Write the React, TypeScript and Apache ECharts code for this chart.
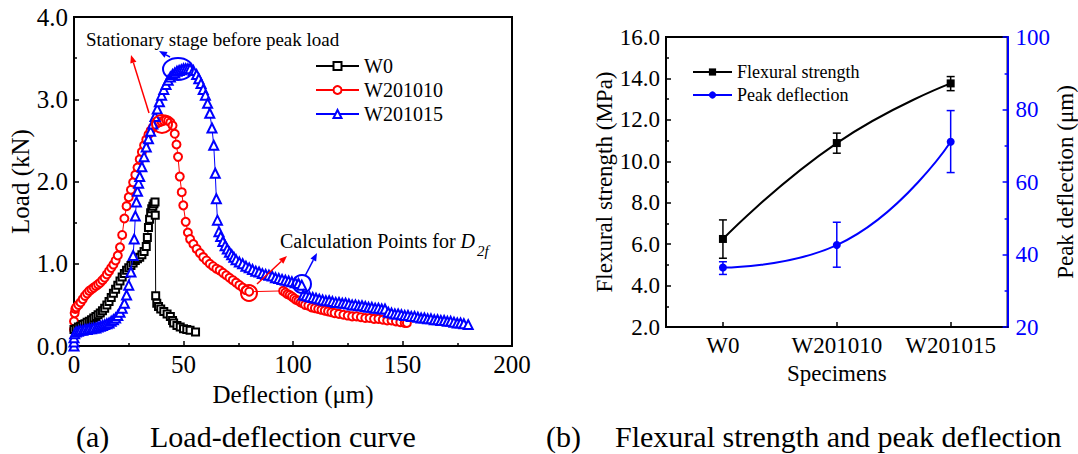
import React, { useEffect, useRef } from "react";
import * as echarts from "echarts";

// ---------- Data (a) Load-deflection curve: [deflection (µm), load (kN)] ----------
const w0Data: number[][] = [
  [0, 0.2], [1, 0.21], [2, 0.23], [3, 0.24], [4, 0.26], [5, 0.27], [6, 0.29], [7, 0.3], [8, 0.32], [9, 0.34],
  [10, 0.36], [11, 0.38], [12, 0.4], [13, 0.43], [14, 0.46], [15, 0.5], [16, 0.54], [17, 0.59], [18, 0.64], [19, 0.69],
  [20, 0.74], [21, 0.79], [22, 0.84], [23, 0.88], [24, 0.92], [25, 0.95], [26, 0.98], [27, 1.01], [28, 1.04], [29, 1.06],
  [30, 1.08], [31, 1.11], [32, 1.15], [33, 1.21], [33.5, 1.32], [34, 1.44], [34.5, 1.54], [35, 1.62], [35.5, 1.67],
  [36, 1.7], [36.5, 1.73], [37, 1.75], [37.1, 1.59], [37.3, 0.61], [37.8, 0.52], [38.6, 0.48], [39.6, 0.45],
  [41, 0.42], [42.5, 0.39], [44, 0.36], [45, 0.31], [45.5, 0.28], [47, 0.25], [48.5, 0.23], [50, 0.21],
  [51.5, 0.2], [53, 0.19], [55.5, 0.17],
];

const w201010Data: number[][] = [
  [0, 0.2], [0, 0.3], [0.3, 0.4], [0.6, 0.45], [1, 0.47], [2, 0.5], [3, 0.53], [4, 0.57], [5, 0.61], [6, 0.64],
  [7, 0.67], [8, 0.69], [9, 0.71], [10, 0.73], [11, 0.75], [12, 0.77], [13, 0.8], [14, 0.83], [15, 0.87], [16, 0.91],
  [17, 0.95], [18, 0.99], [19, 1.04], [20, 1.1], [21, 1.2], [22, 1.35], [23, 1.55], [24, 1.7], [25, 1.81], [26, 1.9],
  [27, 1.99], [28, 2.08], [29, 2.17], [30, 2.27], [31, 2.36], [32, 2.44], [33, 2.51], [34, 2.57], [35, 2.62],
  [36, 2.66], [37, 2.69], [38, 2.71], [39, 2.72], [40, 2.73], [41, 2.74], [42, 2.75], [43, 2.74], [44, 2.72],
  [45, 2.68], [46, 2.58], [46.8, 2.45], [47.5, 2.3], [48.3, 2.06], [49.2, 1.87], [49.9, 1.71], [51, 1.51],
  [52, 1.38], [53, 1.3], [54.5, 1.24], [56, 1.18], [57.5, 1.13], [59, 1.08], [60.5, 1.04], [62, 1.0], [63.5, 0.97],
  [65, 0.94], [66.5, 0.92], [68, 0.89], [69.5, 0.86], [71, 0.83], [72.5, 0.8], [74, 0.77], [75.5, 0.74], [77, 0.71],
  [78.5, 0.68], [80, 0.66], [95.5, 0.67], [96.5, 0.65], [97.5, 0.63], [98.5, 0.62], [99.5, 0.6], [100.5, 0.58],
  [101.5, 0.56], [102.5, 0.55], [103.5, 0.53], [104.5, 0.52], [105.5, 0.5], [107, 0.49], [108.5, 0.47], [110, 0.46],
  [111.5, 0.45], [113, 0.44], [114.5, 0.43], [116, 0.42], [117.5, 0.41], [119, 0.4], [121, 0.39], [123, 0.38],
  [125, 0.37], [127, 0.36], [129, 0.36], [131, 0.35], [133, 0.34], [135, 0.34], [137, 0.33], [139, 0.33],
  [141, 0.32], [143, 0.31], [145, 0.31], [147, 0.3], [149, 0.29], [151, 0.28], [152, 0.28],
];

const w201015Data: number[][] = [
  [0, 0.0], [0, 0.05], [0, 0.1], [0.3, 0.15], [1, 0.17], [2, 0.18], [3, 0.19], [4, 0.19], [5, 0.2], [6, 0.2],
  [7, 0.21], [8, 0.21], [9, 0.22], [10, 0.22], [11, 0.23], [12, 0.24], [13, 0.25], [14, 0.26], [15, 0.27],
  [16, 0.28], [17, 0.3], [18, 0.32], [19, 0.34], [20, 0.37], [21, 0.41], [22, 0.46], [23, 0.52], [24, 0.62],
  [25, 0.74], [26, 0.9], [27, 1.1], [27.5, 1.3], [28, 1.58], [28.5, 1.75], [29, 1.88], [29.5, 1.98], [30, 2.06],
  [31, 2.18], [32, 2.3], [33, 2.42], [34, 2.52], [35, 2.61], [36, 2.7], [37, 2.79], [38, 2.88], [39, 2.97],
  [40, 3.05], [41, 3.12], [42, 3.18], [43, 3.23], [44, 3.27], [45, 3.3], [46, 3.32], [47, 3.34], [48, 3.35],
  [49, 3.36], [50, 3.37], [51, 3.37], [52, 3.37], [53, 3.37], [54.5, 3.35], [56, 3.3], [57, 3.25], [58, 3.19],
  [59, 3.12], [60, 3.05], [61, 2.95], [62, 2.83], [63, 2.65], [63.8, 2.44], [64.5, 2.1], [65, 1.79], [65.5, 1.53],
  [66.2, 1.39], [67, 1.33], [68, 1.27], [69, 1.22], [70, 1.18], [71, 1.14], [72, 1.11], [73, 1.08], [74, 1.05],
  [75.5, 1.02], [77, 1.0], [78.5, 0.97], [80, 0.95], [81.5, 0.93], [83, 0.91], [84.5, 0.9], [86, 0.88],
  [87.5, 0.87], [89, 0.86], [90.5, 0.85], [92, 0.83], [93.5, 0.82], [95, 0.81], [96.5, 0.8], [98, 0.79],
  [99.5, 0.78], [101, 0.77], [102.5, 0.76], [104, 0.74], [104.7, 0.62], [106, 0.61], [107.5, 0.6], [109, 0.59],
  [110.5, 0.58], [112, 0.57], [113.5, 0.56], [115, 0.55], [116.5, 0.55], [118, 0.54], [119.5, 0.53], [121, 0.53],
  [122.5, 0.52], [124, 0.52], [125.5, 0.51], [127, 0.5], [128.5, 0.5], [130, 0.49], [131.5, 0.49], [133, 0.48],
  [134.5, 0.47], [136, 0.47], [137.5, 0.46], [139, 0.46], [140.5, 0.45], [142, 0.45], [143.5, 0.41], [145, 0.4],
  [146.5, 0.39], [148, 0.39], [149.5, 0.38], [151, 0.37], [152.5, 0.37], [154, 0.36], [155.5, 0.36], [157, 0.35],
  [158.5, 0.34], [160, 0.34], [161.5, 0.33], [163, 0.33], [164.5, 0.32], [166, 0.32], [167.5, 0.31], [169, 0.31],
  [170.5, 0.3], [172, 0.3], [173.5, 0.29], [175, 0.28], [176.5, 0.28], [178, 0.27], [180, 0.26],
];

// ---------- Data (b) Flexural strength and peak deflection ----------
const specimens = ["W0", "W201010", "W201015"];
const flexuralStrength = [6.25, 10.88, 13.76];
const flexuralLow = [5.32, 10.39, 13.41];
const flexuralHigh = [7.17, 11.36, 14.09];
const peakDeflection = [36.4, 42.6, 71.1];
const peakLow = [34.5, 36.5, 62.6];
const peakHigh = [38.0, 48.9, 79.7];

const FONT = "Liberation Serif";

function arrow(x1: number, y1: number, x2: number, y2: number, color: string) {
  const ang = Math.atan2(y2 - y1, x2 - x1);
  const len = 8;
  const half = 3.2;
  const bx = x2 - len * Math.cos(ang);
  const by = y2 - len * Math.sin(ang);
  const px = -Math.sin(ang) * half;
  const py = Math.cos(ang) * half;
  return [
    { type: "line", shape: { x1, y1, x2: bx, y2: by }, style: { stroke: color, lineWidth: 1.5 }, z: 100 },
    {
      type: "polygon",
      shape: { points: [[x2, y2], [bx + px, by + py], [bx - px, by - py]] },
      style: { fill: color },
      z: 100,
    },
  ];
}

export default function App() {
  const ref = useRef<HTMLDivElement>(null);
  useEffect(() => {
    document.body.style.margin = "0";
    const chart = echarts.init(ref.current!, null, { renderer: "svg" });

    const errorSeries = (low: number[], high: number[], color: string, yAxisIndex: number) => ({
      type: "custom",
      xAxisIndex: 1,
      yAxisIndex,
      silent: true,
      z: 3,
      data: low.map((l, i) => [i, l, high[i]]),
      encode: { x: 0, y: [1, 2] },
      renderItem: (params: any, api: any) => {
        const i = api.value(0);
        const top = api.coord([i, api.value(2)]);
        const bot = api.coord([i, api.value(1)]);
        const w = 4;
        const st = { stroke: color, lineWidth: 1.5 };
        return {
          type: "group",
          children: [
            { type: "line", shape: { x1: top[0], y1: top[1], x2: bot[0], y2: bot[1] }, style: st },
            { type: "line", shape: { x1: top[0] - w, y1: top[1], x2: top[0] + w, y2: top[1] }, style: st },
            { type: "line", shape: { x1: bot[0] - w, y1: bot[1], x2: bot[0] + w, y2: bot[1] }, style: st },
          ],
        };
      },
    });

    const axisCommon = {
      axisLine: { show: true, lineStyle: { color: "#000", width: 2 } },
      axisTick: { show: true, inside: true, length: 5, lineStyle: { color: "#000", width: 1.5 } },
      minorTick: { show: true, splitNumber: 2, length: 3, lineStyle: { color: "#000", width: 1.5 } },
      splitLine: { show: false },
    };

    const option: any = {
      animation: false,
      textStyle: { fontFamily: FONT, color: "#000" },
      grid: [
        { left: 74, top: 17, width: 438, height: 329, show: true, borderColor: "#000", borderWidth: 2, backgroundColor: "transparent" },
        { left: 666, top: 37, width: 354, height: 290, show: true, borderColor: "#000", borderWidth: 2, backgroundColor: "transparent" },
      ],
      xAxis: [
        {
          ...axisCommon,
          type: "value",
          gridIndex: 0,
          min: 0,
          max: 200,
          interval: 50,
          name: "Deflection (μm)",
          nameLocation: "middle",
          nameGap: 32,
          nameTextStyle: { fontSize: 25, fontFamily: FONT, color: "#000" },
          axisLabel: { fontSize: 25, fontFamily: FONT, color: "#000", margin: 6 },
        },
        {
          ...axisCommon,
          minorTick: { show: false },
          type: "category",
          gridIndex: 1,
          data: specimens,
          axisTick: { show: true, inside: true, alignWithLabel: true, length: 5, lineStyle: { color: "#000", width: 1.5 } },
          name: "Specimens",
          nameLocation: "middle",
          nameGap: 31,
          nameTextStyle: { fontSize: 23, fontFamily: FONT, color: "#000" },
          axisLabel: { interval: 0, fontSize: 23, fontFamily: FONT, color: "#000", margin: 7 },
        },
      ],
      yAxis: [
        {
          ...axisCommon,
          type: "value",
          gridIndex: 0,
          min: 0,
          max: 4,
          interval: 1,
          name: "Load (kN)",
          nameLocation: "middle",
          nameGap: 39,
          nameTextStyle: { fontSize: 25, fontFamily: FONT, color: "#000" },
          axisLabel: { fontSize: 25, fontFamily: FONT, color: "#000", margin: 6, formatter: (v: number) => v.toFixed(1) },
        },
        {
          ...axisCommon,
          type: "value",
          gridIndex: 1,
          min: 2,
          max: 16,
          interval: 2,
          name: "Flexural strength (MPa)",
          nameLocation: "middle",
          nameGap: 42,
          nameTextStyle: { fontSize: 23, fontFamily: FONT, color: "#000" },
          axisLabel: { fontSize: 23, fontFamily: FONT, color: "#000", margin: 6, formatter: (v: number) => v.toFixed(1) },
        },
        {
          type: "value",
          gridIndex: 1,
          position: "right",
          min: 20,
          max: 100,
          interval: 20,
          splitLine: { show: false },
          axisLine: { show: true, lineStyle: { color: "#0000ff", width: 2 } },
          axisTick: { show: true, inside: true, length: 5, lineStyle: { color: "#0000ff", width: 1.5 } },
          minorTick: { show: true, splitNumber: 2, length: 3, lineStyle: { color: "#0000ff", width: 1.5 } },
          name: "Peak deflection (μm)",
          nameLocation: "middle",
          nameGap: 31,
          nameTextStyle: { fontSize: 23, fontFamily: FONT, color: "#000" },
          axisLabel: { fontSize: 23, fontFamily: FONT, color: "#0000ff", margin: 8 },
        },
      ],
      legend: [
        {
          data: ["W0", "W201010", "W201015"],
          orient: "vertical",
          left: 310,
          top: 51,
          itemWidth: 43,
          itemHeight: 10,
          itemGap: 4,
          textStyle: { fontSize: 20, fontFamily: FONT, color: "#000" },
        },
        {
          data: ["Flexural strength", "Peak deflection"],
          orient: "vertical",
          left: 687,
          top: 58,
          itemWidth: 39,
          itemHeight: 9,
          itemGap: 5,
          textStyle: { fontSize: 18, fontFamily: FONT, color: "#000" },
        },
      ],
      series: [
        {
          name: "W0",
          type: "line",
          xAxisIndex: 0,
          yAxisIndex: 0,
          data: w0Data,
          showAllSymbol: true,
          symbol: "emptyRect",
          symbolSize: 7,
          lineStyle: { color: "#000", width: 1 },
          itemStyle: { color: "#000", borderWidth: 1 },
          z: 4,
        },
        {
          name: "W201010",
          type: "line",
          xAxisIndex: 0,
          yAxisIndex: 0,
          data: w201010Data,
          showAllSymbol: true,
          symbol: "emptyCircle",
          symbolSize: 8,
          lineStyle: { color: "#ff0000", width: 1 },
          itemStyle: { color: "#ff0000", borderWidth: 1 },
          z: 3,
        },
        {
          name: "W201015",
          type: "line",
          xAxisIndex: 0,
          yAxisIndex: 0,
          data: w201015Data,
          showAllSymbol: true,
          symbol: "emptyTriangle",
          symbolSize: 9,
          lineStyle: { color: "#0000ff", width: 1 },
          itemStyle: { color: "#0000ff", borderWidth: 1 },
          z: 5,
        },
        errorSeries(flexuralLow, flexuralHigh, "#000", 1),
        errorSeries(peakLow, peakHigh, "#0000ff", 2),
        {
          name: "Flexural strength",
          type: "line",
          xAxisIndex: 1,
          yAxisIndex: 1,
          data: flexuralStrength,
          smooth: 0.5,
          symbol: "rect",
          symbolSize: 8,
          lineStyle: { color: "#000", width: 2 },
          itemStyle: { color: "#000" },
          z: 4,
        },
        {
          name: "Peak deflection",
          type: "line",
          xAxisIndex: 1,
          yAxisIndex: 2,
          data: peakDeflection,
          smooth: 0.5,
          symbol: "circle",
          symbolSize: 8,
          lineStyle: { color: "#0000ff", width: 2 },
          itemStyle: { color: "#0000ff" },
          z: 4,
        },
      ],
      graphic: [
        {
          type: "text",
          left: 86,
          top: 30,
          style: { text: "Stationary stage before peak load", font: `19px "${FONT}"`, fill: "#000" },
          z: 100,
        },
        { type: "ellipse", shape: { cx: 178, cy: 69, rx: 15, ry: 11 }, style: { fill: "none", stroke: "#0000ff", lineWidth: 2 }, z: 100 },
        { type: "ellipse", shape: { cx: 162, cy: 124, rx: 10, ry: 9 }, style: { fill: "none", stroke: "#ff0000", lineWidth: 2 }, z: 100 },
        ...arrow(170, 57, 159, 51, "#0000ff"),
        ...arrow(149, 113, 131, 55, "#ff0000"),
        { type: "circle", shape: { cx: 249, cy: 293, r: 8 }, style: { fill: "none", stroke: "#ff0000", lineWidth: 2 }, z: 100 },
        { type: "circle", shape: { cx: 302, cy: 284, r: 9 }, style: { fill: "none", stroke: "#0000ff", lineWidth: 2 }, z: 100 },
        ...arrow(257, 284, 287, 256, "#ff0000"),
        ...arrow(305, 276, 317, 253, "#0000ff"),
        {
          type: "text",
          left: 280,
          top: 231,
          style: {
            text: "{n|Calculation Points for }{i|D}",
            rich: {
              n: { font: `20px "${FONT}"`, fill: "#000" },
              i: { font: `italic 20px "${FONT}"`, fill: "#000" },
            },
          },
          z: 100,
        },
        {
          type: "text",
          left: 477,
          top: 243,
          style: { text: "2f", font: `italic 15px "${FONT}"`, fill: "#000" },
          z: 100,
        },
        { type: "text", left: 76, top: 421, style: { text: "(a)", font: `30px "${FONT}"`, fill: "#000" } },
        { type: "text", left: 150, top: 421, style: { text: "Load-deflection curve", font: `30px "${FONT}"`, fill: "#000" } },
        { type: "text", left: 546, top: 421, style: { text: "(b)", font: `30px "${FONT}"`, fill: "#000" } },
        { type: "text", x: 615, y: 421, style: { text: "Flexural strength and peak deflection", font: `30px "${FONT}"`, fill: "#000" } },
      ],
    };
    chart.setOption(option);
    return () => chart.dispose();
  }, []);
  return <div ref={ref} style={{ width: 1078, height: 454 }} />;
}
